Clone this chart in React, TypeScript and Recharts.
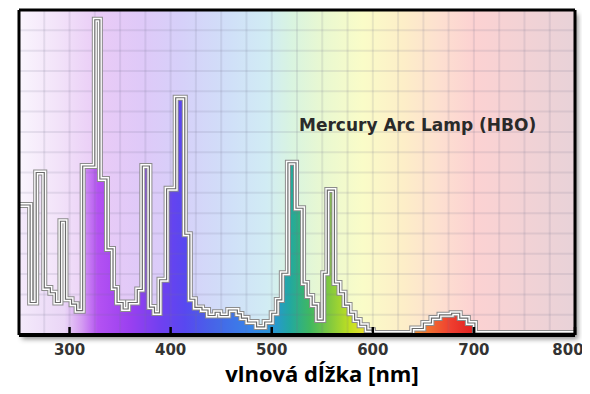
import { ComposedChart, Area, Line, XAxis, YAxis, ReferenceArea, ReferenceLine, Label } from "recharts";

// wavelength (nm) where each step starts, and relative intensity (0-100)
const wavelengths = [250, 261, 267, 275, 281, 286, 291, 296, 302, 307, 313, 325, 330, 337, 343, 347, 353, 358, 367, 372, 379, 384, 389, 396, 405, 414, 419, 424, 431, 437, 444, 449, 457, 466, 470, 476, 485, 493, 500, 505, 510, 516, 524, 531, 535, 540, 545, 551, 555, 562, 567, 572, 577, 582, 587, 594, 600, 639, 650, 658, 666, 678, 686, 694, 701, 800];
const intensity = [40, 10, 50, 14.5, 13, 10, 35, 11, 9.5, 7.5, 52, 97, 48, 26.5, 14.5, 10, 8, 10, 14, 52, 8.6, 6.8, 17, 45, 73, 31, 11, 8.5, 7.7, 6, 7, 6, 7.7, 6.5, 5.2, 4, 2.5, 4, 6.7, 10.8, 19, 53, 39, 16, 12, 9.2, 4.6, 19, 44.6, 16, 13, 9.2, 6.7, 4.6, 3, 1.5, 0.6, 2, 3.7, 5.2, 6.2, 6.7, 5.2, 3.7, 0.6, 0.6];

const xTicks = [300, 400, 500, 600, 700, 800];
const yTicks = [0, 25, 50, 75, 100];
const gridX = [275, 300, 325, 350, 375, 400, 425, 450, 475, 500, 525, 550, 575, 600, 625, 650, 675, 700, 725, 750, 775];
const gridY = [6.25, 12.5, 18.75, 25, 31.25, 37.5, 43.75, 50, 56.25, 62.5, 68.75, 75, 81.25, 87.5, 93.75];

const title = "Mercury Arc Lamp (HBO)";
const xLabel = "vlnová dĺžka [nm]";

// spectrum colours: [nm, colour]
const fillStops: [number, string][] = [
  [250, "#f4eafb"], [295, "#ead6f6"], [312, "#d49cf2"], [328, "#b452f2"], [360, "#9a40f0"],
  [390, "#7040f0"], [414, "#5848f0"], [440, "#4862e8"], [478, "#3882e8"], [503, "#2898d0"],
  [518, "#22a8a0"], [538, "#40b860"], [557, "#80c840"], [577, "#c0e020"], [592, "#e8e030"],
  [620, "#f0b030"], [648, "#f08030"], [676, "#f04030"], [700, "#e02020"], [800, "#e02020"],
];
const bgStops: [number, string][] = [
  [250, "#faf5fd"], [290, "#f2e2f9"], [330, "#e9cbf6"], [370, "#dfc9f8"], [410, "#d6d0f9"],
  [460, "#d0e0f8"], [495, "#d1ecf4"], [520, "#d9f4e0"], [550, "#e9f8d1"], [590, "#fafcc8"],
  [630, "#fdeec8"], [665, "#fde0d0"], [700, "#fcd2d2"], [800, "#e8d2d8"],
];

const data = wavelengths.map((nm, i) => ({ nm, v: intensity[i] }));

const pct = (nm: number) => `${((nm - 250) / 550) * 100}%`;

const XTick = ({ x, y, payload }: any) => (
  <text
    x={payload.value === 800 ? x - 7 : x}
    y={y}
    dy="0.71em"
    textAnchor="middle"
    fill="#333"
    fontFamily="DejaVu Sans"
    fontWeight="bold"
    fontSize={15}
  >
    {payload.value}
  </text>
);

export default function App() {
  return (
    <div style={{ position: "relative", width: 590, height: 394, margin: -8 }}>
      <div
        style={{
          position: "absolute", left: 19, top: 10, width: 556, height: 325,
          boxShadow: "3px 4px 5px rgba(0,0,0,0.45)",
        }}
      />
      <div style={{ position: "absolute", left: 0, top: 0 }}>
        <ComposedChart width={590} height={394} data={data} margin={{ top: 10, right: 15, left: 18, bottom: 0 }}>
          <defs>
            <linearGradient id="spec" x1="0" y1="0" x2="1" y2="0">
              {fillStops.map(([nm, c]) => (
                <stop key={nm} offset={pct(nm)} stopColor={c} />
              ))}
            </linearGradient>
            <linearGradient id="bg" x1="0" y1="0" x2="1" y2="0">
              {bgStops.map(([nm, c]) => (
                <stop key={nm} offset={pct(nm)} stopColor={c} />
              ))}
            </linearGradient>
          </defs>
          <XAxis
            dataKey="nm"
            type="number"
            domain={[250, 800]}
            ticks={xTicks}
            height={59}
            tickSize={-8}
            tickMargin={17}
            axisLine={{ stroke: "#000", strokeWidth: 4 }}
            tickLine={{ stroke: "#000", strokeWidth: 2.5 }}
            tick={XTick}
            allowDataOverflow
          >
            <Label
              value={xLabel}
              position="insideBottom"
              offset={12}
              dx={25}
              style={{ fill: "#000", fontFamily: "Open Sans", fontWeight: "bold", fontSize: 22 }}
            />
          </XAxis>
          <YAxis
            width={1}
            domain={[0, 100]}
            ticks={yTicks}
            tickSize={-8}
            tick={false}
            axisLine={{ stroke: "#000", strokeWidth: 3 }}
            tickLine={{ stroke: "#000", strokeWidth: 2.5 }}
          />
          <ReferenceArea x1={250} x2={800} y1={0} y2={100} fill="url(#bg)" fillOpacity={1} stroke="none" />
          {gridX.map((x) => (
            <ReferenceLine key={"gx" + x} x={x} stroke="rgba(110,110,140,0.14)" strokeWidth={2} />
          ))}
          {gridY.map((y) => (
            <ReferenceLine key={"gy" + y} y={y} stroke="rgba(110,110,140,0.14)" strokeWidth={2} />
          ))}
          <Area type="stepAfter" dataKey="v" fill="url(#spec)" fillOpacity={1} stroke="none" isAnimationActive={false} />
          <Line type="stepAfter" dataKey="v" stroke="#8c8c8c" strokeWidth={6} dot={false} isAnimationActive={false} />
          <Line type="stepAfter" dataKey="v" stroke="#ffffff" strokeWidth={4} dot={false} isAnimationActive={false} />
          <Line type="stepAfter" dataKey="v" stroke="#6a6a6a" strokeWidth={1.2} dot={false} isAnimationActive={false} />
          <ReferenceLine y={100} stroke="#000" strokeWidth={3} />
          <ReferenceLine x={800} stroke="#000" strokeWidth={3} />
        </ComposedChart>
      </div>
      <div
        style={{
          position: "absolute", left: 299, top: 117, fontFamily: "DejaVu Sans",
          fontWeight: "bold", fontSize: 17, lineHeight: "17px", color: "#2a2a2a", whiteSpace: "nowrap",
        }}
      >
        {title}
      </div>
    </div>
  );
}
